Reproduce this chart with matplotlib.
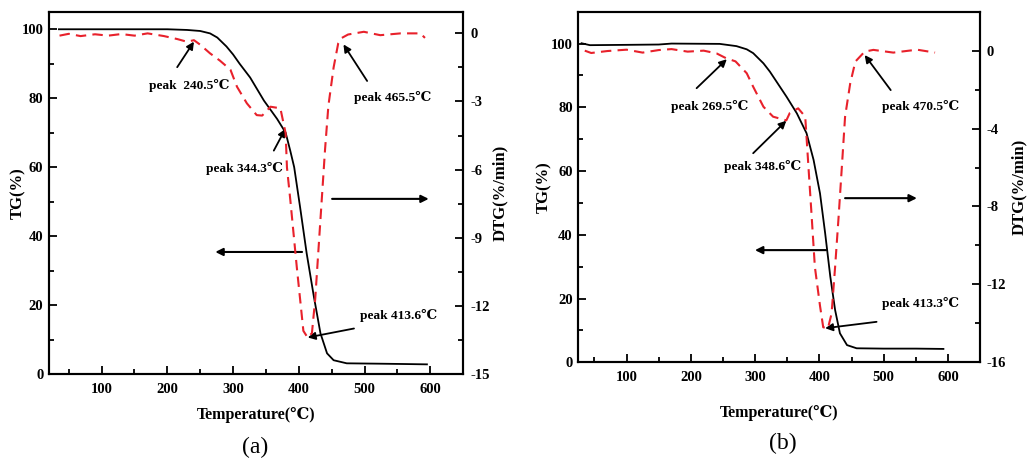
import matplotlib
matplotlib.use("Agg")
import matplotlib.pyplot as plt
from matplotlib.ticker import MultipleLocator

plt.rcParams["font.family"] = ["Liberation Serif", "DejaVu Serif"]
plt.rcParams["font.weight"] = "bold"
plt.rcParams["axes.labelweight"] = "bold"
plt.rcParams["axes.unicode_minus"] = False

# ---- sample (a) ----
temp_tg_a = [35, 100, 150, 200, 230, 250, 265, 276, 290, 300, 310, 326, 347, 367, 380,
             387, 393, 402, 412, 423, 433, 443, 453, 473, 520, 560, 595]
tg_a = [100, 100, 100, 100, 99.8, 99.5, 98.8, 97.6, 95, 92.7, 90, 86, 79.3, 74, 70,
        64.8, 60, 48.4, 35, 22.4, 11.8, 6, 4, 3.1, 3.0, 2.9, 2.8]
temp_dtg_a = [36, 50, 68, 90, 110, 130, 150, 170, 195, 215, 230, 240.5, 250, 265, 280,
              296, 306, 321, 336, 344.3, 357, 372, 380, 382, 387, 392, 397, 402, 407,
              413.6, 420, 425, 430, 435, 440, 445, 453, 460, 465.5, 475, 499, 524, 555,
              585, 592]
dtg_a = [-0.1, -0.02, -0.12, -0.04, -0.1, -0.03, -0.1, 0.0, -0.12, -0.25, -0.37, -0.3,
         -0.5, -0.88, -1.2, -1.6, -2.35, -3.08, -3.6, -3.62, -3.23, -3.3, -4.4, -5.9,
         -7.3, -8.8, -10.3, -11.7, -13.1, -13.4, -13.2, -11.7, -9.5, -7.3, -5.1, -3.2,
         -1.5, -0.44, -0.2, -0.05, 0.07, -0.08, 0.0, 0.0, -0.2]

# ---- sample (b) ----
temp_tg_b = [30, 43, 100, 150, 170, 245, 271, 287, 297, 313, 323, 349, 365, 380, 391,
             401, 409, 417, 424.5, 432, 443, 458, 500, 550, 593]
tg_b = [100.1, 99.5, 99.6, 99.7, 100, 99.9, 99.2, 98.2, 97, 93.8, 91.2, 83.3, 78.1,
        71.9, 63.5, 53, 40.5, 26.9, 16.4, 9.1, 5.4, 4.4, 4.3, 4.3, 4.2]
temp_dtg_b = [35, 45, 70, 100, 125, 150, 170, 195, 220, 240, 255, 269.5, 287, 297,
              313, 328, 348.6, 354, 367, 378, 383, 388, 393, 401, 406, 413.3, 419, 424.5,
              430, 435, 440, 448, 456, 470.5, 484, 515, 552, 580]
dtg_b = [0.0, -0.12, -0.02, 0.05, -0.1, 0.03, 0.08, -0.05, 0.0, -0.14, -0.39, -0.55,
         -1.16, -1.85, -2.88, -3.39, -3.58, -3.2, -2.96, -3.39, -5.96, -8.5, -11.1,
         -13.1, -14.2, -14.26, -13.5, -11.1, -8.5, -5.96, -3.39, -1.68, -0.56, -0.05,
         0.04, -0.1, 0.05, -0.1]

# peak labels: (text, text xy, arrow tail, arrow tip) in TG-axis data coords
peaks_a = [("peak  240.5\u2103", (233.8, 83.6), (215, 89), (240.5, 96.4)),
           ("peak 344.3\u2103", (318, 59.6), (362, 64.8), (379.6, 71.1)),
           ("peak 465.5\u2103", (543, 80.2), (504, 85), (468, 95.6)),
           ("peak 413.6\u2103", (552, 17.1), (484, 13.2), (413.6, 10.6))]
peaks_b = [("peak 269.5\u2103", (229.7, 80.4), (209, 86), (256, 95.1)),
           ("peak 348.6\u2103", (311.5, 61.4), (297, 65.6), (348.6, 75.8)),
           ("peak 470.5\u2103", (557.6, 80.4), (511, 85.4), (470.5, 96.4)),
           ("peak 413.3\u2103", (557.6, 18.3), (489, 12.7), (409, 10.7))]
# direction arrows: (tail, tip)
dirs_a = [((405, 35.4), (273, 35.4)), ((450.7, 50.8), (597.7, 50.8))]
dirs_b = [((410.4, 35.2), (299.8, 35.2)), ((440, 51.5), (551.7, 51.5))]

fig = plt.figure(figsize=(10.3, 4.66), dpi=100)


def panel(rect, xlim, tg_lim, dtg_lim, dtg_step, t1, tg, t2, dtg, peaks, dirs, tag, tag_xy,
          xpad, tgpad, dtgpad):
    ax = fig.add_axes(rect)
    ax2 = ax.twinx()
    ax.plot(t1, tg, color="black", lw=1.3, zorder=3)
    ax2.plot(t2, dtg, color="#e8212b", lw=1.5, dashes=(5, 3))
    ax.set_xlim(*xlim)
    ax.set_ylim(*tg_lim)
    ax2.set_ylim(*dtg_lim)
    ax.xaxis.set_major_locator(MultipleLocator(100))
    ax.xaxis.set_minor_locator(MultipleLocator(50))
    ax.yaxis.set_major_locator(MultipleLocator(20))
    ax.yaxis.set_minor_locator(MultipleLocator(10))
    ax2.yaxis.set_major_locator(MultipleLocator(dtg_step))
    ax2.yaxis.set_minor_locator(MultipleLocator(dtg_step / 2))
    for a in (ax, ax2):
        a.tick_params(which="both", direction="in", labelsize=10.5, width=1.3)
        a.tick_params(which="major", length=6)
        a.tick_params(which="minor", length=3.5)
        for s in a.spines.values():
            s.set_linewidth(1.5)
    ax.tick_params(top=False, right=False)
    ax.tick_params(axis="x", pad=6.5)
    ax.tick_params(axis="y", pad=4)
    ax2.tick_params(axis="y", pad=5)
    ax.set_xlabel("Temperature(\u2103)", fontsize=11.5, labelpad=xpad)
    ax.set_ylabel("TG(%)", fontsize=12, labelpad=tgpad)
    ax2.set_ylabel("DTG(%/min)", fontsize=12, labelpad=dtgpad)
    for text, txy, tail, tip in peaks:
        ax.text(txy[0], txy[1], text, fontsize=9.6, ha="center", va="center")
        ax.annotate("", xy=tip, xytext=tail,
                    arrowprops=dict(arrowstyle="-|>", color="black", lw=1.3,
                                    mutation_scale=11, shrinkA=0, shrinkB=0))
    for tail, tip in dirs:
        ax.annotate("", xy=tip, xytext=tail,
                    arrowprops=dict(arrowstyle="-|>", color="black", lw=1.5,
                                    mutation_scale=11, shrinkA=0, shrinkB=0))
    fig.text(tag_xy[0], tag_xy[1], tag, fontsize=17, fontweight="normal",
             ha="center", va="center")
    return ax


panel([0.0476, 0.1974, 0.402, 0.7768], (20, 650), (0, 105), (-15, 0.94), 3,
      temp_tg_a, tg_a, temp_dtg_a, dtg_a, peaks_a, dirs_a, "(a)", (255 / 1030, 1 - 447 / 466),
      8, -3, 2)
panel([0.5615, 0.2225, 0.39, 0.7524], (25, 650), (0, 110), (-16, 2), 4,
      temp_tg_b, tg_b, temp_dtg_b, dtg_b, peaks_b, dirs_b, "(b)", (783 / 1030, 1 - 443 / 466),
      15, -1, 3)

fig.savefig("out.png", dpi=100)
